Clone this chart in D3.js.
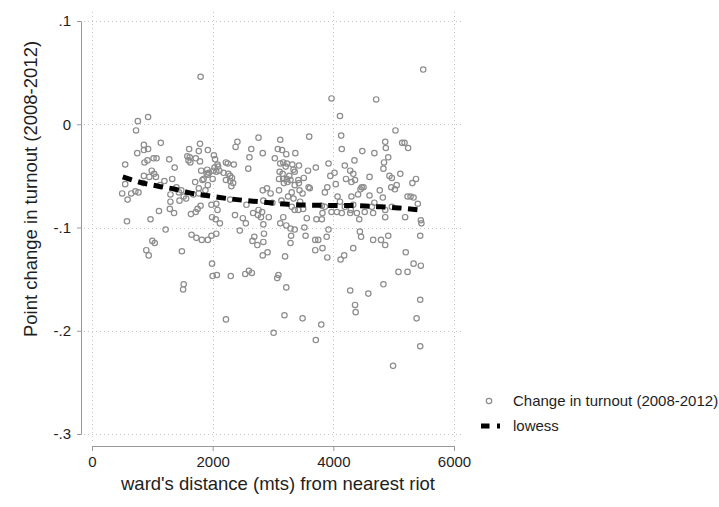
<!DOCTYPE html>
<html>
<head>
<meta charset="utf-8">
<script src="https://cdn.jsdelivr.net/npm/d3@7"></script>
<style>
  html, body { margin: 0; padding: 0; background: #fff; }
  svg { display: block; font-family: "Liberation Sans", Arial, Helvetica, sans-serif; }
</style>
</head>
<body>
<svg id="chart" width="719" height="507"></svg>
<script>
// ward distance (mts) / point change in turnout
const distance = [
  1800, 760, 930, 730, 1140, 860, 750, 860, 930, 550, 870, 920, 1020, 1070, 1280, 1370, 990, 1030, 860, 950,
  1330, 1200, 1610, 1790, 1770, 1920, 1580, 1620, 1600, 1630, 1720, 1790, 1810, 1910, 1900, 1830, 1710, 1770, 1920, 1940,
  2010, 1920, 1850, 2000, 1060, 1130, 1400, 550, 850, 500, 650, 720, 770, 590, 1300, 1440, 1480, 1300, 1450, 1560,
  1290, 1360, 1110, 970, 580, 1520, 1640, 1720, 1750, 1800, 1680, 1770, 1880, 1220, 1650, 1730, 1820, 1920, 1980, 2060,
  1000, 1040, 900, 940, 1490, 1990, 2000, 2070, 2300, 2540, 2600, 2650, 1520, 1510, 2220, 2020, 2040, 2080, 2090, 2220,
  2250, 2350, 2060, 2110, 2180, 2260, 2290, 2320, 2220, 2290, 2340, 2030, 2410, 2380, 2640, 2610, 2590, 2760, 2830, 3120,
  3080, 3150, 3030, 3220, 3120, 3170, 3230, 3210, 3110, 3160, 3170, 3230, 3100, 2310, 2830, 2900, 3100, 3180, 2960, 2290,
  2370, 2500, 2450, 2550, 2560, 2670, 2760, 2750, 2820, 2800, 2840, 2850, 2690, 2660, 2840, 2740, 2930, 3140, 2990, 3120,
  3220, 3170, 3290, 1980, 2060, 2080, 1990, 2050, 2120, 2830, 2910, 2840, 3200, 3300, 3290, 3360, 3090, 3070, 3220, 3190,
  3490, 3800, 3010, 3710, 3600, 3370, 3920, 3950, 4020, 3710, 3580, 3510, 3430, 3320, 3340, 3360, 3420, 3270, 3290, 3240,
  3970, 4710, 5490, 4110, 5030, 4130, 4860, 5140, 5180, 4870, 5240, 4140, 4480, 4680, 4350, 4910, 4840, 4830, 4190, 4280,
  4330, 4360, 4210, 4600, 4930, 4970, 5110, 5370, 5310, 4470, 4500, 4450, 4960, 5050, 5020, 4040, 3900, 3860, 4770, 4410,
  4600, 4070, 4300, 4820, 5230, 5280, 5330, 3360, 3430, 3590, 3610, 3440, 3310, 3250, 3490, 3340, 3450, 3310, 3360, 3420,
  3500, 4110, 3970, 4060, 4140, 4280, 4290, 4190, 3860, 3810, 3820, 4300, 4330, 4390, 4520, 4660, 4430, 4680, 4640, 4860,
  4860, 4970, 5400, 5190, 5450, 5460, 5440, 3540, 3700, 3920, 3890, 3750, 3700, 3820, 3520, 3560, 3720, 3810, 4440, 4460,
  4660, 4790, 4910, 4860, 4330, 5200, 3900, 4120, 4180, 4280, 4580, 4830, 4360, 4370, 5080, 5230, 5330, 5450, 5440, 5380,
  4990, 5440
];
const turnoutChange = [
  0.046, 0.003, 0.007, -0.006, -0.018, -0.020, -0.028, -0.025, -0.024, -0.039, -0.037, -0.035, -0.033, -0.033, -0.034, -0.042, -0.045, -0.048, -0.050, -0.051,
  -0.053, -0.055, -0.024, -0.019, -0.026, -0.025, -0.031, -0.032, -0.035, -0.037, -0.033, -0.036, -0.045, -0.044, -0.048, -0.054, -0.056, -0.062, -0.059, -0.047,
  -0.045, -0.049, -0.053, -0.053, -0.051, -0.059, -0.061, -0.058, -0.057, -0.067, -0.067, -0.065, -0.066, -0.073, -0.068, -0.066, -0.064, -0.075, -0.074, -0.072,
  -0.082, -0.086, -0.084, -0.092, -0.094, -0.070, -0.087, -0.085, -0.082, -0.079, -0.068, -0.067, -0.064, -0.102, -0.107, -0.110, -0.112, -0.112, -0.108, -0.106,
  -0.113, -0.115, -0.122, -0.127, -0.123, -0.135, -0.147, -0.146, -0.147, -0.145, -0.142, -0.144, -0.155, -0.160, -0.189, -0.030, -0.034, -0.039, -0.041, -0.037,
  -0.038, -0.039, -0.046, -0.045, -0.047, -0.048, -0.050, -0.052, -0.054, -0.055, -0.057, -0.042, -0.017, -0.022, -0.024, -0.032, -0.043, -0.013, -0.028, -0.015,
  -0.024, -0.025, -0.033, -0.029, -0.038, -0.037, -0.038, -0.041, -0.046, -0.048, -0.053, -0.053, -0.053, -0.060, -0.064, -0.062, -0.064, -0.057, -0.067, -0.073,
  -0.088, -0.091, -0.103, -0.096, -0.078, -0.086, -0.083, -0.088, -0.085, -0.090, -0.097, -0.106, -0.109, -0.113, -0.114, -0.117, -0.090, -0.074, -0.076, -0.096,
  -0.098, -0.090, -0.101, -0.078, -0.077, -0.083, -0.090, -0.092, -0.096, -0.127, -0.124, -0.074, -0.128, -0.108, -0.115, -0.102, -0.146, -0.149, -0.158, -0.185,
  -0.188, -0.194, -0.202, -0.209, -0.012, -0.028, -0.038, -0.050, -0.047, -0.042, -0.045, -0.052, -0.040, -0.039, -0.044, -0.046, -0.054, -0.050, -0.054, -0.056,
  0.025, 0.024, 0.053, 0.008, -0.006, -0.011, -0.017, -0.018, -0.018, -0.023, -0.023, -0.024, -0.026, -0.028, -0.035, -0.032, -0.037, -0.043, -0.040, -0.045,
  -0.048, -0.054, -0.053, -0.051, -0.050, -0.052, -0.048, -0.053, -0.057, -0.061, -0.061, -0.063, -0.061, -0.059, -0.063, -0.058, -0.061, -0.066, -0.064, -0.068,
  -0.069, -0.070, -0.070, -0.071, -0.070, -0.070, -0.071, -0.059, -0.057, -0.061, -0.062, -0.064, -0.066, -0.070, -0.067, -0.072, -0.075, -0.080, -0.083, -0.083,
  -0.082, -0.075, -0.085, -0.085, -0.086, -0.086, -0.083, -0.080, -0.080, -0.079, -0.086, -0.056, -0.078, -0.086, -0.085, -0.086, -0.092, -0.076, -0.080, -0.083,
  -0.090, -0.080, -0.077, -0.090, -0.093, -0.096, -0.108, -0.108, -0.112, -0.102, -0.109, -0.112, -0.122, -0.120, -0.100, -0.091, -0.092, -0.092, -0.104, -0.109,
  -0.112, -0.112, -0.108, -0.117, -0.120, -0.124, -0.129, -0.131, -0.127, -0.161, -0.164, -0.155, -0.175, -0.182, -0.143, -0.143, -0.135, -0.137, -0.170, -0.188,
  -0.234, -0.215
];

// lowess smoother as drawn
const lowessX = [510, 850, 1100, 1380, 1620, 1900, 2120, 2400, 2670, 2950, 3250, 3750, 4300, 4800, 5080, 5440];
const lowessY = [-0.051, -0.057, -0.060, -0.063, -0.0665, -0.069, -0.071, -0.073, -0.0745, -0.076, -0.0775, -0.0785, -0.0787, -0.080, -0.081, -0.083];

const xTicks = [0, 2000, 4000, 6000];
const yTicks = [0.1, 0, -0.1, -0.2, -0.3];
const yTickLabels = ['.1', '0', '-.1', '-.2', '-.3'];
const legendLabels = ['Change in turnout (2008-2012)', 'lowess'];

const svg = d3.select('#chart');
const gray = '#8c8c8c';

const x = d3.scaleLinear().domain([0, 6000]).range([92, 454]);
const y = d3.scaleLinear().domain([-0.3, 0.1]).range([434, 21]);

// dotted grid
const grid = svg.append('g').attr('stroke', '#c8c8c8').attr('stroke-width', 1).attr('stroke-dasharray', '1,3');
grid.selectAll('line.h').data(yTicks).join('line')
  .attr('x1', 84).attr('x2', 462)
  .attr('y1', (d) => Math.round(y(d)) + 0.5).attr('y2', (d) => Math.round(y(d)) + 0.5);
grid.selectAll('line.v').data(xTicks).join('line')
  .attr('y1', 12).attr('y2', 442)
  .attr('x1', (d) => Math.round(x(d)) + 0.5).attr('x2', (d) => Math.round(x(d)) + 0.5);

// axes
const yAxis = svg.append('g')
  .attr('transform', 'translate(81,0)')
  .call(d3.axisLeft(y).tickValues(yTicks).tickSizeOuter(0).tickSize(4).tickPadding(6)
    .tickFormat((d, i) => yTickLabels[i]));
const xAxis = svg.append('g')
  .attr('transform', 'translate(0,446)')
  .call(d3.axisBottom(x).tickValues(xTicks).tickSizeOuter(0).tickSize(5).tickPadding(5)
    .tickFormat(d3.format('d')));

[yAxis, xAxis].forEach((g) => {
  g.select('.domain').attr('stroke', '#9a9a9a');
  g.selectAll('.tick line').attr('stroke', '#9a9a9a');
  g.selectAll('.tick text').attr('fill', '#1e1e1e').style('font-size', '15px')
    .style('font-family', '"Liberation Sans", Arial, sans-serif');
});

// axis titles
svg.append('text')
  .attr('x', 278).attr('y', 490)
  .attr('text-anchor', 'middle')
  .attr('fill', '#1e1e1e')
  .style('font-size', '18.5px')
  .text("ward's distance (mts) from nearest riot");

svg.append('text')
  .attr('transform', 'translate(37,189) rotate(-90)')
  .attr('text-anchor', 'middle')
  .attr('fill', '#1e1e1e')
  .style('font-size', '18.5px')
  .text('Point change in turnout (2008-2012)');

// scatter
const pts = distance.map((d, i) => ({ x: d, y: turnoutChange[i] }));
svg.append('g').selectAll('circle').data(pts).join('circle')
  .attr('cx', (d) => x(d.x)).attr('cy', (d) => y(d.y))
  .attr('r', 2.7)
  .attr('fill', 'none')
  .attr('stroke', gray)
  .attr('stroke-width', 1.2);

// lowess
const line = d3.line().x((d) => x(d[0])).y((d) => y(d[1])).curve(d3.curveMonotoneX);
svg.append('path')
  .datum(lowessX.map((d, i) => [d, lowessY[i]]))
  .attr('d', line)
  .attr('fill', 'none')
  .attr('stroke', '#000')
  .attr('stroke-width', 5)
  .attr('stroke-dasharray', '9.5,6.5');

// legend
const legend = svg.append('g').style('font-size', '15px').attr('fill', '#1e1e1e');
legend.append('circle').attr('cx', 489).attr('cy', 401).attr('r', 2.7)
  .attr('fill', 'none').attr('stroke', gray).attr('stroke-width', 1.2);
legend.append('line').attr('x1', 481).attr('x2', 500).attr('y1', 426).attr('y2', 426)
  .attr('stroke', '#000').attr('stroke-width', 5).attr('stroke-dasharray', '8.5,7.5');
legend.selectAll('text').data(legendLabels).join('text')
  .attr('x', 513).attr('y', (d, i) => 406 + i * 25)
  .text((d) => d);
</script>
</body>
</html>
